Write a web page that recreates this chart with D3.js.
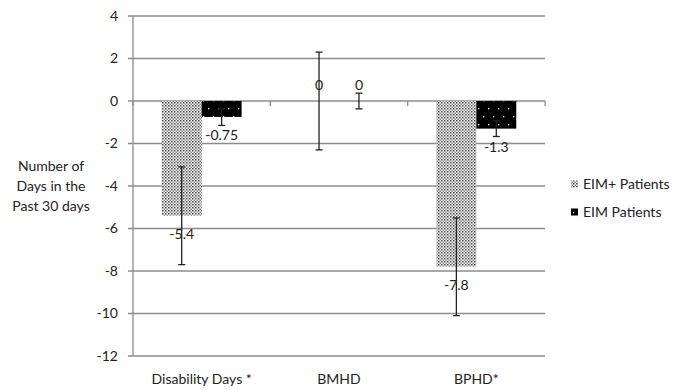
<!DOCTYPE html>
<html>
<head>
<meta charset="utf-8">
<script src="https://cdn.jsdelivr.net/npm/d3@7"></script>
<style>
  body { margin: 0; background: #fff; }
  text { font-family: Lato, "Open Sans", sans-serif; fill: #222; }
</style>
</head>
<body>
<div id="chart"></div>
<script>
// datos
const categories = ["Disability Days *", "BMHD", "BPHD*"];
const series = ["EIM+ Patients", "EIM Patients"];
const eimPlus = [-5.4, 0, -7.8];
const eimPlusErr = [2.3, 2.3, 2.3];
const eim = [-0.75, 0, -1.3];
const eimErr = [0.4, 0.37, 0.37];
const labelsPlus = ["-5.4", "0", "-7.8"];
const labelsEim = ["-0.75", "0", "-1.3"];
const yTicks = [4, 2, 0, -2, -4, -6, -8, -10, -12];

const width = 673, height = 390;
const svg = d3.select("#chart").append("svg")
    .attr("width", width)
    .attr("height", height);

// patrones de relleno
const defs = svg.append("defs");
const pDots = defs.append("pattern")
    .attr("id", "dotsGray")
    .attr("patternUnits", "userSpaceOnUse")
    .attr("width", 3).attr("height", 3);
pDots.append("rect").attr("width", 3).attr("height", 3).attr("fill", "#fff");
pDots.append("rect").attr("x", 0).attr("y", 0).attr("width", 1.5).attr("height", 1.5).attr("fill", "#444");
pDots.append("rect").attr("x", 1.5).attr("y", 1.5).attr("width", 1.5).attr("height", 1.5).attr("fill", "#888");

const pBlack = defs.append("pattern")
    .attr("id", "dotsBlack")
    .attr("patternUnits", "userSpaceOnUse")
    .attr("width", 10).attr("height", 16);
pBlack.append("rect").attr("width", 10).attr("height", 16).attr("fill", "#000");
pBlack.append("rect").attr("x", 3).attr("y", 4).attr("width", 1.3).attr("height", 1.3).attr("fill", "#fff");
pBlack.append("rect").attr("x", 8).attr("y", 12).attr("width", 1.3).attr("height", 1.3).attr("fill", "#fff");

const plotLeft = 133, plotRight = 545, plotTop = 16, plotBottom = 356;

const x0 = d3.scaleBand().domain(categories).range([plotLeft, plotRight]).paddingInner(0).paddingOuter(0);
const x1 = d3.scaleBand().domain(series).range([0, x0.bandwidth()]).paddingInner(0).paddingOuter(0.72);
const y = d3.scaleLinear().domain([-12, 4]).range([plotBottom, plotTop]);

// líneas de la cuadrícula
svg.append("g")
    .selectAll("line")
    .data(yTicks)
    .enter().append("line")
    .attr("x1", plotLeft - 5).attr("x2", plotRight)
    .attr("y1", d => y(d)).attr("y2", d => y(d))
    .attr("stroke", "#8c8c8c")
    .attr("stroke-width", 1.3);

// eje vertical
svg.append("line")
    .attr("x1", plotLeft).attr("x2", plotLeft)
    .attr("y1", plotTop).attr("y2", plotBottom)
    .attr("stroke", "#8c8c8c").attr("stroke-width", 1.3);

// marcas del eje x (en y=0)
const xBounds = [plotLeft, plotLeft + x0.bandwidth(), plotLeft + 2 * x0.bandwidth(), plotRight];
svg.append("g").selectAll("line")
    .data(xBounds)
    .enter().append("line")
    .attr("x1", d => d).attr("x2", d => d)
    .attr("y1", y(0)).attr("y2", y(0) + 5)
    .attr("stroke", "#8c8c8c").attr("stroke-width", 1.3);

// etiquetas eje y
svg.append("g").selectAll("text")
    .data(yTicks)
    .enter().append("text")
    .attr("x", 118)
    .attr("y", d => y(d))
    .attr("dy", "0.35em")
    .attr("text-anchor", "end")
    .style("font-size", "14px")
    .text(d => d);

// etiquetas categorías
svg.append("g").selectAll("text")
    .data(categories)
    .enter().append("text")
    .attr("x", d => x0(d) + x0.bandwidth() / 2)
    .attr("y", 384)
    .attr("text-anchor", "middle")
    .style("font-size", "14px")
    .text(d => d);

// título eje y
const yTitle = ["Number of", "Days in the", "Past 30 days"];
svg.append("g").selectAll("text")
    .data(yTitle)
    .enter().append("text")
    .attr("x", 51)
    .attr("y", (d, i) => 171 + i * 20)
    .attr("text-anchor", "middle")
    .style("font-size", "14px")
    .text(d => d);

const data = [
    { name: series[0], values: eimPlus, errs: eimPlusErr, labels: labelsPlus, fill: "url(#dotsGray)" },
    { name: series[1], values: eim, errs: eimErr, labels: labelsEim, fill: "url(#dotsBlack)" }
];

data.forEach(s => {
    const g = svg.append("g");
    const cx = i => x0(categories[i]) + x1(s.name) + x1.bandwidth() / 2;

    g.selectAll("rect")
        .data(s.values)
        .enter().append("rect")
        .attr("x", (d, i) => x0(categories[i]) + x1(s.name))
        .attr("width", x1.bandwidth())
        .attr("y", d => Math.min(y(0), y(d)))
        .attr("height", d => Math.abs(y(d) - y(0)))
        .attr("fill", s.fill);

    // barras de error
    s.values.forEach((v, i) => {
        const xc = cx(i);
        const yHi = y(v + s.errs[i]), yLo = y(v - s.errs[i]);
        g.append("line").attr("x1", xc).attr("x2", xc).attr("y1", yHi).attr("y2", yLo)
            .attr("stroke", "#222").attr("stroke-width", 1.3);
        [yHi, yLo].forEach(yy => {
            g.append("line").attr("x1", xc - 3.5).attr("x2", xc + 3.5).attr("y1", yy).attr("y2", yy)
                .attr("stroke", "#222").attr("stroke-width", 1.3);
        });
    });

    // etiquetas de datos
    g.selectAll("text")
        .data(s.values)
        .enter().append("text")
        .attr("x", (d, i) => cx(i))
        .attr("y", d => d < 0 ? y(d) + 18 : y(d) - 16)
        .attr("dy", "0.35em")
        .attr("text-anchor", "middle")
        .style("font-size", "14px")
        .text((d, i) => s.labels[i]);
});

// leyenda
const legend = svg.append("g");
series.forEach((name, i) => {
    const ly = 184 + i * 28;
    legend.append("rect")
        .attr("x", 571).attr("y", ly - 3.5)
        .attr("width", 7).attr("height", 7)
        .attr("fill", data[i].fill);
    legend.append("text")
        .attr("x", 583).attr("y", ly)
        .attr("dy", "0.35em")
        .style("font-size", "14px")
        .text(name);
});
</script>
</body>
</html>
